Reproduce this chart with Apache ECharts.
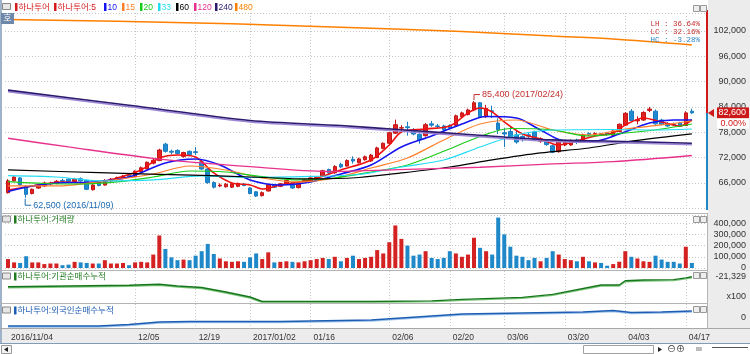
<!DOCTYPE html>
<html>
<head>
<meta charset="utf-8">
<script src="https://cdn.jsdelivr.net/npm/echarts@6/dist/echarts.min.js"></script>
<style>
  html, body { margin: 0; padding: 0; background: #fff; }
  #main { width: 750px; height: 354px; }
</style>
</head>
<body>
<div id="main"></div>
<script>
// ---- data ----
const dates = [
  '2016/11/04','2016/11/07','2016/11/08','2016/11/09','2016/11/10','2016/11/11',
  '2016/11/14','2016/11/15','2016/11/16','2016/11/17','2016/11/18',
  '2016/11/21','2016/11/22','2016/11/23','2016/11/24','2016/11/25',
  '2016/11/28','2016/11/29','2016/11/30','2016/12/01','2016/12/02',
  '2016/12/05','2016/12/06','2016/12/07','2016/12/08','2016/12/09',
  '2016/12/12','2016/12/13','2016/12/14','2016/12/15','2016/12/16',
  '2016/12/19','2016/12/20','2016/12/21','2016/12/22','2016/12/23',
  '2016/12/26','2016/12/27','2016/12/28','2016/12/29',
  '2017/01/02','2017/01/03','2017/01/04','2017/01/05','2017/01/06',
  '2017/01/09','2017/01/10','2017/01/11','2017/01/12','2017/01/13',
  '2017/01/16','2017/01/17','2017/01/18','2017/01/19','2017/01/20',
  '2017/01/23','2017/01/24','2017/01/25','2017/01/26','2017/01/31',
  '2017/02/01','2017/02/02','2017/02/03',
  '2017/02/06','2017/02/07','2017/02/08','2017/02/09','2017/02/10',
  '2017/02/13','2017/02/14','2017/02/15','2017/02/16','2017/02/17',
  '2017/02/20','2017/02/21','2017/02/22','2017/02/23','2017/02/24',
  '2017/02/27','2017/02/28','2017/03/02','2017/03/03',
  '2017/03/06','2017/03/07','2017/03/08','2017/03/09','2017/03/10',
  '2017/03/13','2017/03/14','2017/03/15','2017/03/16','2017/03/17',
  '2017/03/20','2017/03/21','2017/03/22','2017/03/23','2017/03/24',
  '2017/03/27','2017/03/28','2017/03/29','2017/03/30','2017/03/31',
  '2017/04/03','2017/04/04','2017/04/05','2017/04/06','2017/04/07',
  '2017/04/10','2017/04/11','2017/04/12','2017/04/13','2017/04/14',
  '2017/04/17','2017/04/18'
];

// open, close, low, high
const candles = [
  [63700,66500,63500,66900],[66500,67400,66300,67600],[67200,65600,65300,67400],[65200,63300,62500,65400],
  [63500,64500,63300,64700],[64800,65500,64600,65800],[65300,66000,65100,66300],[65800,65900,65500,66300],
  [65900,66400,65700,66700],[66600,66400,66100,67000],[66900,66300,66100,67100],[66300,66900,66200,67200],
  [67000,66500,66300,67300],[66600,64500,64300,66800],[64400,65500,64200,65800],[65800,65400,65200,66000],
  [65500,66600,65400,66900],[66500,66900,66300,67200],[66800,67300,66600,67500],[67100,67600,66900,67900],
  [67800,67500,67200,68000],[67500,68800,67400,69000],[68700,69600,68500,69900],[69300,70900,69200,71100],
  [70700,71400,70400,71800],[71300,73800,71200,74100],[75200,73500,73200,75500],[73500,73300,72800,73900],
  [73700,73000,72700,74000],[72300,73200,72000,73400],[73500,72700,72500,73700],[73400,73200,72600,74500],
  [71000,69300,69100,71400],[69300,66100,65800,69500],[66100,65000,64700,66400],[65300,65500,65000,65900],
  [65100,65700,64900,66000],[65000,65800,64800,66000],[65200,65900,65000,66100],[65700,65400,65200,66000],
  [64800,63500,63300,65000],[63900,62900,62700,64100],[63000,63700,62800,64000],[64100,65600,64000,65800],
  [65500,65000,64800,65800],[65200,65800,65000,66000],[65900,66600,65700,66800],[66000,64800,64600,66200],
  [64900,65800,64700,66000],[66400,66700,66200,67000],[66500,67200,66300,67400],[66800,67300,66600,67600],
  [67600,68900,67400,69100],[69200,68400,68200,69400],[68400,69900,68200,70200],[70400,69800,69500,70800],
  [70000,71300,69900,71600],[71600,71200,70600,72300],[70800,71700,70600,72000],[71500,72200,71300,72500],
  [71200,72600,71000,72900],[72000,74300,71900,74600],[74200,75400,74000,75600],[75400,77900,75200,78100],
  [77800,79800,77600,81000],[79000,79100,78300,79700],[79300,79100,77200,80500],[78500,77600,77300,79000],
  [77500,76200,75300,77800],[77200,79800,77000,80200],[80000,79700,79300,80700],[79500,79400,78900,80000],
  [79500,78600,78300,79800],[79600,79000,78700,79900],[79600,81900,79400,82200],[81700,82600,81400,82900],
  [82200,83300,82000,83600],[83300,85000,83000,85400],[85000,81700,81500,85200],[81700,83700,81400,84500],
  [83100,82900,81400,84300],[80200,78600,77600,81300],[77900,77600,74500,79000],[78200,77000,76800,79500],
  [77400,75700,75300,78600],[77000,76300,75800,77300],[77400,77100,76500,78000],[78100,76400,76200,78400],
  [75900,76500,75500,76800],[76100,75100,74800,76400],[74800,73300,73100,75100],[73400,75700,73200,76000],
  [75000,75700,74700,76000],[75000,76000,74800,76300],[76200,75600,75200,76500],[76300,77400,76100,77700],
  [77700,77400,77100,78000],[77500,77700,77200,78000],[77600,77400,77100,77900],[77800,77500,77200,78100],
  [77300,78300,77100,78500],[78200,79900,78000,80100],[79700,82500,79600,82800],[83000,80800,80600,83500],
  [80700,81000,79900,81800],[80900,82700,80700,83000],[83200,83500,82800,84000],[83000,80000,79800,83400],
  [80900,79900,79700,81200],[80100,79500,79300,80400],[79900,79800,79500,80300],[80200,79500,79300,80500],
  [79600,82600,79500,83000],[83000,82600,82400,83600]
];

const volumes = [
  80000,50000,45000,105000,50000,50000,35000,40000,40000,25000,30000,55000,50000,45000,40000,40000,
  70000,40000,40000,45000,25000,50000,55000,50000,120000,290000,170000,95000,70000,75000,70000,110000,
  150000,215000,125000,85000,60000,55000,60000,55000,95000,130000,80000,140000,50000,55000,60000,55000,
  50000,60000,70000,80000,90000,80000,100000,60000,90000,110000,80000,90000,100000,160000,130000,230000,
  380000,260000,200000,110000,120000,150000,90000,80000,90000,150000,130000,100000,120000,270000,180000,150000,
  120000,450000,300000,190000,110000,100000,70000,90000,60000,90000,150000,120000,80000,70000,60000,100000,
  60000,50000,45000,20000,35000,56000,150000,100000,85000,60000,55000,110000,75000,55000,55000,40000,
  190000,45000
];

// moving averages: [day index, value]
const ma5 = [[0,64340],[4,65290],[9,66240],[14,66000],[18,67180],[22,69080],[25,71920],[28,72630],[31,72160],
  [34,68370],[37,66000],[40,65530],[42,64580],[45,65530],[50,66710],[55,69080],[60,71450],[63,75000],[65,78080],
  [69,78790],[73,79500],[76,82580],[78,83760],[80,82820],[82,80450],[85,77610],[88,76420],[91,75000],[94,75950],
  [97,77130],[100,77840],[102,79740],[105,81400],[108,80450],[111,79500],[113,80920]];
const ma10 = [[0,63990],[4,65290],[8,66000],[14,66240],[20,67420],[26,70740],[31,71680],[35,70260],[40,66710],
  [45,65530],[50,66240],[55,68130],[60,70260],[65,74530],[70,77130],[75,79970],[79,81750],[84,81400],[88,78550],
  [92,75950],[97,75950],[101,77610],[106,80210],[110,80920],[113,80920]];
const ma15 = [[0,65290],[8,65290],[16,66470],[24,68130],[30,70020],[36,69080],[42,67180],[48,66240],[54,67180],
  [60,69550],[66,71920],[72,76180],[78,79970],[84,80920],[90,78550],[96,77370],[102,78790],[108,79740],[113,80680]];
const ma20 = [[0,66300],[6,65880],[12,65760],[18,66240],[24,67420],[30,68840],[36,68600],[42,67490],[48,66710],
  [54,67180],[60,68600],[66,70260],[72,73500],[78,77000],[83,78900],[90,78550],[96,77130],[102,77840],[108,78790],
  [113,79970]];
const ma33 = [[0,67730],[8,67420],[16,66470],[24,66710],[32,67660],[40,67300],[50,67540],[58,68010],[65,69790],
  [72,71450],[78,74530],[84,77370],[90,78550],[100,78670],[107,78550],[113,78790]];
const ma60 = [[0,69080],[15,68440],[32,67780],[40,67420],[50,66950],[58,67300],[65,68370],[73,69790],[80,71450],
  [88,73110],[96,74290],[104,76070],[113,77610]];
const ma120 = [[0,76590],[10,74530],[24,71850],[40,69860],[53,68720],[66,69200],[78,69720],[90,70500],[100,71050],
  [113,72510]];
const ma240 = [[0,88000],[20,84400],[40,80800],[55,79600],[65,78600],[75,77600],[82,76900],[90,76200],[100,75900],
  [113,75400]];
const ma480 = [[0,104700],[18,104300],[37,103700],[55,102900],[75,101900],[90,100800],[100,100100],[113,98700]];

// cumulative net buying (x100 shares)
const instCum = [[0,-31329],[10,-30629],[20,-29929],[25,-28929],[28,-30629],[32,-32129],[36,-36629],[40,-41629],
  [42,-46129],[60,-46129],[70,-45500],[75,-44000],[85,-42000],[90,-39000],[98,-29629],[101,-29629],[102,-25329],
  [105,-24629],[110,-24300],[112,-22500],[113,-21329]];
const foreignCum = [[0,-8000],[15,-8000],[20,-6500],[25,-4000],[30,-3500],[45,-3500],[60,-2000],[65,0],[75,4000],
  [85,5000],[95,6000],[100,7500],[103,5500],[108,6000],[113,7000]];

const tickIndex = [0,21,31,40,50,63,73,82,92,102,112];
const tickLabels = ['2016/11/04','12/05','12/19','2017/01/02','01/16','02/06','02/20','03/06','03/20','04/03','04/17'];
const priceTicks = [66000,72000,78000,84000,90000,96000,102000];
const volumeTicks = [0,100000,200000,300000,400000];
const legendNames = ['하나투어','하나투어:5','10','15','20','33','60','120','240','480'];
const panelTitles = ['하나투어:거래량','하나투어:기관순매수누적','하나투어:외국인순매수누적'];
const lastPrice = 82600, lastChange = '0.00%';
const highPrice = 85400, highIdx = 77, lowPrice = 62500, lowIdx = 3;

// ---- chart ----
const chart = echarts.init(document.getElementById('main'));
const cats = dates.concat(['', '']);
const FONT = '"Liberation Sans","Noto Sans CJK KR",sans-serif';
const MONO = '"Liberation Mono","DejaVu Sans Mono",monospace';
const dotted = { color: '#c6c6c6', type: [1, 2], width: 1 };
const maColors = ['#f01010','#1414f0','#ff7f2a','#18cc18','#22dcf4','#000000','#e8318c','#2c1a6e','#ff8000'];
const maWidths = [1.6,1.6,1.2,1.2,1.2,1.2,1.3,1.6,1.5];
const maData = [ma5, ma10, ma15, ma20, ma33, ma60, ma120, ma240, ma480];

const grids = [
  { left: 5, right: 43, top: 13, height: 195.3 },
  { left: 5, right: 43, top: 215, height: 53 },
  { left: 5, right: 43, top: 271, height: 31 },
  { left: 5, right: 43, top: 304, height: 24 }
];

const xAxes = grids.map((g, k) => ({
  type: 'category', gridIndex: k, data: cats, boundaryGap: true,
  axisLine: { show: false }, axisTick: { show: false },
  axisLabel: k === 3 ? {
    interval: (i) => tickIndex.includes(i),
    formatter: (v, i) => tickLabels[tickIndex.indexOf(i)] || '',
    align: 'left', padding: [0, 0, 0, 3], margin: 5,
    color: '#333', fontSize: 8.5, fontFamily: FONT
  } : { show: false },
  splitLine: { show: true, interval: (i) => i > 0 && tickIndex.includes(i), alignWithLabel: true, lineStyle: dotted }
}));

const yAxes = [
  { type: 'value', gridIndex: 0, position: 'right', min: 60000, max: 106263, interval: 6000,
    axisLine: { show: false }, axisTick: { show: false },
    axisLabel: { align: 'right', margin: 39, color: '#333', fontSize: 9, fontFamily: FONT,
      formatter: (v) => priceTicks.includes(v) ? v.toLocaleString('en-US') : '' },
    splitLine: { lineStyle: dotted } },
  { type: 'value', gridIndex: 1, position: 'right', min: 0, max: 473214, interval: 100000,
    axisLine: { show: false }, axisTick: { show: false },
    axisLabel: { align: 'right', margin: 39, color: '#333', fontSize: 9, fontFamily: FONT,
      formatter: (v) => volumeTicks.includes(v) ? v.toLocaleString('en-US') : '' },
    splitLine: { lineStyle: dotted } },
  { type: 'value', gridIndex: 2, position: 'right', min: -46629, max: -15629,
    axisLine: { show: false }, axisTick: { show: false }, axisLabel: { show: false }, splitLine: { show: false } },
  { type: 'value', gridIndex: 3, position: 'right', min: -10000, max: 14000,
    axisLine: { show: false }, axisTick: { show: false }, axisLabel: { show: false }, splitLine: { show: false } }
];

const series = [{
  name: legendNames[0], type: 'candlestick', xAxisIndex: 0, yAxisIndex: 0, data: candles, barWidth: 4,
  itemStyle: { color: '#e02222', color0: '#1f8ad0', borderColor: '#c41414', borderColor0: '#1a7cc0', borderWidth: 1 }
}];
maData.forEach((d, k) => {
  const ls = { color: maColors[k], width: maWidths[k] };
  if (k === 7) Object.assign(ls, { shadowColor: '#9d86d6', shadowOffsetY: 1.5, shadowBlur: 0 });
  series.push({
    name: legendNames[k + 1], type: 'line', xAxisIndex: 0, yAxisIndex: 0, data: d,
    symbol: 'none', smooth: 0.3, z: 3, lineStyle: ls
  });
});
series.push({
  name: panelTitles[0], type: 'bar', xAxisIndex: 1, yAxisIndex: 1, barWidth: 4,
  data: volumes.map((v, i) => ({
    value: v,
    itemStyle: { color: candles[i][1] >= candles[i][0] ? '#d42222' : '#1f88c8' }
  }))
});
series.push({
  name: panelTitles[1], type: 'line', xAxisIndex: 2, yAxisIndex: 2, data: instCum, symbol: 'none',
  lineStyle: { color: '#17761c', width: 1.4, shadowColor: '#7cc77c', shadowOffsetY: 1, shadowBlur: 0 }
});
series.push({
  name: panelTitles[2], type: 'line', xAxisIndex: 3, yAxisIndex: 3, data: foreignCum, symbol: 'none',
  lineStyle: { color: '#1d5db2', width: 1.4, shadowColor: '#9cc2ec', shadowOffsetY: 1, shadowBlur: 0 }
});

chart.setOption({
  animation: false,
  backgroundColor: '#fff',
  grid: grids,
  xAxis: xAxes,
  yAxis: yAxes,
  series: series
});

// ---- decorations placed through the chart's own scales ----
const toPx = (k, pt) => chart.convertToPixel({ gridIndex: k }, pt);
const yOf = (k, v) => chart.convertToPixel({ yAxisIndex: k }, v);
const g = [];
const rect = (x, y, w, h, fill, z) => g.push({ type: 'rect', shape: { x, y, width: w, height: h }, style: { fill }, z: z || 0, zlevel: z > 20 ? 1 : 0, silent: true });
const hline = (y, x1, x2, stroke) => g.push({ type: 'line', shape: { x1, y1: y, x2, y2: y }, style: { stroke, lineWidth: 1 }, z: 5 });
const text = (x, y, s, fill, size, align, opt) => {
  opt = opt || {};
  g.push({
    type: 'text', x, y, z: opt.z || 30, zlevel: opt.top ? 1 : 0,
    style: { text: s, fill, fontSize: size, fontFamily: opt.font || FONT, align: align || 'left', verticalAlign: 'middle',
      fontWeight: opt.bold ? 'bold' : 'normal' }
  });
};

// background bands
rect(708, 0, 42, 343, '#ececec', -1);
rect(0, 328, 750, 15, '#ececec', -1);
rect(0, 0, 2, 343, '#9fb3c8', 5);
// separators
hline(213.5, 0, 708, '#b4b4b4');
hline(270.5, 0, 708, '#b4b4b4');
hline(303.5, 0, 708, '#b4b4b4');
hline(328.5, 0, 750, '#a8a8a8');
g.push({ type: 'line', shape: { x1: 707.5, y1: 213, x2: 707.5, y2: 328 }, style: { stroke: '#b4b4b4', lineWidth: 1 }, z: 5 });

// bottom scroll strip
rect(0, 343, 750, 11, '#ffffff', 1);
hline(343.5, 0, 750, '#7f9db9');
g.push({ type: 'rect', shape: { x: 1.5, y: 345.5, width: 10, height: 8 }, style: { fill: '#f4f4f4', stroke: '#9a9a9a' }, z: 6 });
g.push({ type: 'polygon', shape: { points: [[4, 349.5], [8, 347], [8, 352]] }, style: { fill: '#222' }, z: 7 });
g.push({ type: 'rect', shape: { x: 583.5, y: 345.5, width: 70, height: 8 }, style: { fill: '#fff', stroke: '#a0a0a0' }, z: 6 });
g.push({ type: 'polygon', shape: { points: [[658, 347], [662, 349.5], [658, 352]] }, style: { fill: '#222' }, z: 7 });
text(667, 349.5, '⊖⊕', '#333', 9, 'left');
text(696, 349, 'ııı', '#333', 7, 'left');
hline(347.5, 712, 748, '#555');

// top legend
const legendX = [15, 54, 104, 122, 140, 158, 176, 194, 215, 235];
const legendColors = ['#d41a1a', '#d41a1a'].concat(maColors.slice(1));
legendNames.forEach((n, k) => {
  rect(legendX[k], 3, 2.5, 8, legendColors[k], 20);
  text(legendX[k] + 3.5, 7.5, n, legendColors[k], 8.5, 'left');
});
g.push({ type: 'rect', shape: { x: 2.5, y: 3.5, width: 8, height: 6 }, style: { fill: '#e6e6e6', stroke: '#888' }, z: 20 });
// quote tab
rect(1, 13, 13, 11, '#6d88a8', 20);
text(7.5, 18.5, '호', '#fff', 9, 'center');

// panel titles
const titleY = [219.5, 276.5, 310.5];
const titleColors = ['#237a23', '#237a23', '#1d5db2'];
panelTitles.forEach((t, k) => {
  g.push({ type: 'rect', shape: { x: 2.5, y: titleY[k] - 3.5, width: 8, height: 6 }, style: { fill: '#e6e6e6', stroke: '#888' }, z: 20 });
  rect(14, titleY[k] - 4, 2.5, 8, titleColors[k], 20);
  text(17.5, titleY[k], t, titleColors[k], 8.5, 'left');
});

// small panel buttons
[5, 216, 272, 306].forEach((y) => {
  g.push({ type: 'rect', shape: { x: 693.5, y: y + 0.5, width: 6, height: 6 }, style: { fill: '#eee', stroke: '#999' }, z: 20 });
  g.push({ type: 'rect', shape: { x: 700.5, y: y + 0.5, width: 6, height: 6 }, style: { fill: '#eee', stroke: '#999' }, z: 20 });
});

// LH / LC / HC
const lh = ((highPrice / lowPrice - 1) * 100).toFixed(2);
const lc = ((lastPrice / lowPrice - 1) * 100).toFixed(2);
const hc = ((lastPrice / highPrice - 1) * 100).toFixed(2);
text(700, 24, 'LH : ' + lh + '%', '#c43030', 7.5, 'right', { font: MONO });
text(700, 32, 'LC : ' + lc + '%', '#c43030', 7.5, 'right', { font: MONO });
text(700, 40, 'HC : ' + hc + '%', '#2a86c4', 7.5, 'right', { font: MONO });

// high / low annotations
const hp = toPx(0, [highIdx, highPrice]);
g.push({ type: 'polyline', shape: { points: [[hp[0], hp[1] - 1], [hp[0], hp[1] - 6.5], [hp[0] + 6, hp[1] - 6.5]] }, style: { stroke: '#c43030', lineWidth: 1, fill: null }, z: 20 });
text(hp[0] + 8, hp[1] - 6.5, highPrice.toLocaleString('en-US') + ' (' + dates[highIdx] + ')', '#c43030', 9, 'left');
const lp = toPx(0, [lowIdx, lowPrice]);
g.push({ type: 'polyline', shape: { points: [[lp[0] - 1, lp[1] + 1], [lp[0] - 1, lp[1] + 7.5], [lp[0] + 5, lp[1] + 7.5]] }, style: { stroke: '#1e6cb4', lineWidth: 1, fill: null }, z: 20 });
text(lp[0] + 7, lp[1] + 7.5, lowPrice.toLocaleString('en-US') + ' (' + dates[lowIdx] + ')', '#1e6cb4', 9, 'left');

// current price marker
const cy = yOf(0, lastPrice);
rect(706, 10, 2, cy - 10, '#d01818', 15);
rect(706, cy, 2, 210 - cy, '#1f86c8', 15);
g.push({ type: 'polygon', shape: { points: [[708, cy], [714, cy - 4], [714, cy + 4]] }, style: { fill: '#d01818' }, z: 21, zlevel: 1 });
rect(717, cy - 5.5, 32, 11, '#cc1818', 21);
text(746, cy, lastPrice.toLocaleString('en-US'), '#ffffff', 9, 'right', { z: 40, top: true });
rect(717, cy + 5.5, 32, 10, '#ffffff', 21);
text(746, cy + 10.5, lastChange, '#d01818', 9, 'right', { z: 40, top: true });

// indicator panel labels
const instLast = instCum[instCum.length - 1][1];
text(746, yOf(2, instLast), instLast.toLocaleString('en-US'), '#333', 9, 'right');
text(746, 297, 'x100', '#333', 9, 'right');
text(746, yOf(3, 0), '0', '#333', 9, 'right');

chart.setOption({ graphic: g });
</script>
</body>
</html>
